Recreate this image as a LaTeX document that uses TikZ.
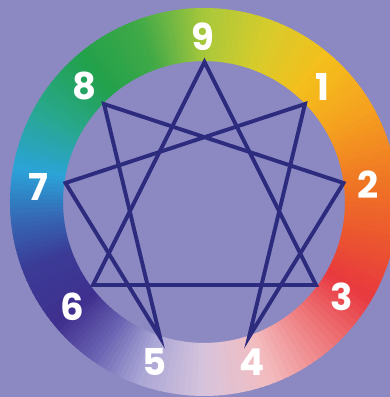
\documentclass[tikz,border=0pt]{standalone}
\usepackage{fontspec}
\setmainfont{Poppins}
\definecolor{bg}{HTML}{8C89C2}
\definecolor{starblue}{HTML}{2D2B7E}
\definecolor{c0}{HTML}{A8C83A}
\definecolor{c20}{HTML}{D6CC2C}
\definecolor{c40}{HTML}{F4BF1C}
\definecolor{c60}{HTML}{F5A21F}
\definecolor{c80}{HTML}{F07B23}
\definecolor{c100}{HTML}{EC5A2D}
\definecolor{c120}{HTML}{E8393F}
\definecolor{c140}{HTML}{EE7D80}
\definecolor{c160}{HTML}{F3BDC0}
\definecolor{c180}{HTML}{D7C3DC}
\definecolor{c200}{HTML}{A9A6D6}
\definecolor{c215}{HTML}{6A63B2}
\definecolor{c230}{HTML}{3F2F8E}
\definecolor{c250}{HTML}{3B3C97}
\definecolor{c265}{HTML}{3569B6}
\definecolor{c280}{HTML}{2BA3D8}
\definecolor{c300}{HTML}{28A78C}
\definecolor{c320}{HTML}{22A14B}
\definecolor{c340}{HTML}{40A946}
\definecolor{c350}{HTML}{72B843}
\begin{document}
\begin{tikzpicture}[x=1pt,y=1pt,
  numlabel/.style={text=white,font=\fontsize{37}{37}\selectfont\bfseries,inner sep=0pt},
  starline/.style={draw=starblue,line width=3.9pt,line join=miter,miter limit=20}]
\useasboundingbox (0,0) rectangle (390,397);
\clip (0,0) rectangle (390,397);
\fill[bg] (0,0) rectangle (390,397);
% ring with angular gradient
\begin{scope}[shift={(204,195)}]
\foreach \a/\ca/\b/\cb in {0/c0/20/c20,20/c20/40/c40,40/c40/60/c60,60/c60/80/c80,80/c80/100/c100,100/c100/120/c120,120/c120/140/c140,140/c140/160/c160,160/c160/180/c180,180/c180/200/c200,200/c200/215/c215,215/c215/230/c230,230/c230/250/c250,250/c250/265/c265,265/c265/280/c280,280/c280/300/c300,300/c300/320/c320,320/c320/340/c340,340/c340/350/c350,350/c350/360/c0}{
  \foreach \i in {0,...,9}{
    \pgfmathsetmacro\tA{90-(\a+(\b-\a)*\i/10)}
    \pgfmathsetmacro\tB{90-(\a+(\b-\a)*(\i+1)/10)-0.4}
    \pgfmathtruncatemacro\p{100*(\i+0.5)/10}
    \colorlet{segc}{\cb!\p!\ca}
    \fill[segc] (\tA:194) arc[start angle=\tA,end angle=\tB,radius=194] -- (\tB:141) arc[start angle=\tB,end angle=\tA,radius=141] -- cycle;
  }
}
\end{scope}
% star vertices
\coordinate (v9) at (204.5,335);
\coordinate (v1) at (305,293);
\coordinate (v2) at (343.5,214);
\coordinate (v3) at (316,112);
\coordinate (v4) at (249,60);
\coordinate (v5) at (160,60);
\coordinate (v6) at (93,112);
\coordinate (v7) at (65.5,214);
\coordinate (v8) at (104,293);
\draw[starline] (v9) -- (v3) -- (v6) -- cycle;
\draw[starline] (v1) -- (v4) -- (v2) -- (v8) -- (v5) -- (v7) -- cycle;
% labels
\node[numlabel] (n9) at (203,360) {9};
\node[numlabel] (n1) at (322,310) {1};
\node[numlabel] (n2) at (368,212) {2};
\node[numlabel] (n3) at (342,100) {3};
\node[numlabel] (n4) at (252,35) {4};
\node[numlabel] (n5) at (155,35) {5};
\node[numlabel] (n6) at (72,90) {6};
\node[numlabel] (n7) at (38,210) {7};
\node[numlabel] (n8) at (84,311) {8};
\end{tikzpicture}
\end{document}
